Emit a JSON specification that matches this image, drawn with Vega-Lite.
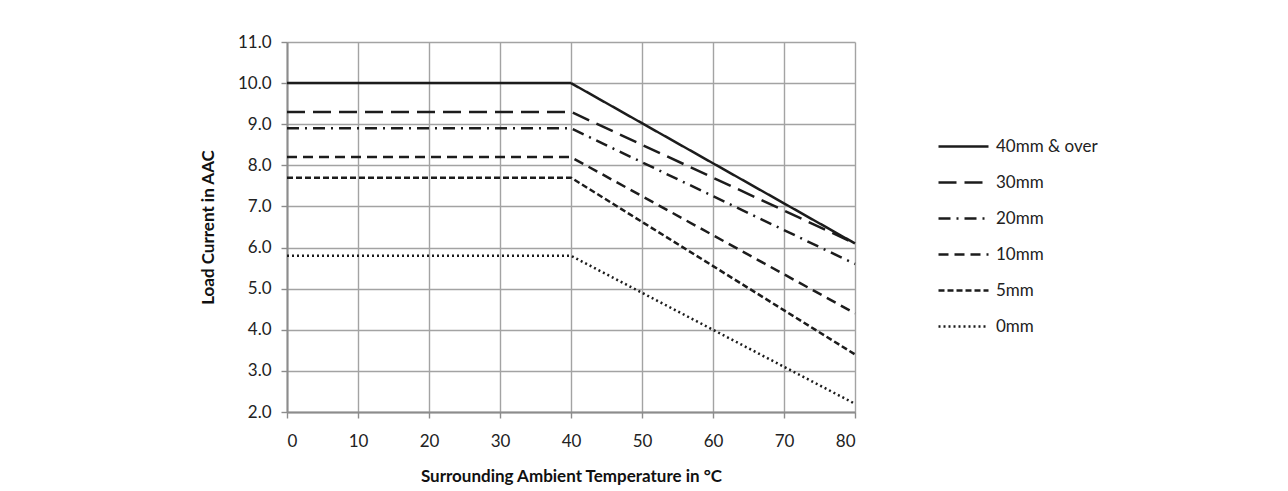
{
  "$schema": "https://vega.github.io/schema/vega-lite/v6.json",
  "autosize": {"type": "none"},
  "width": 568,
  "height": 370,
  "padding": {"left": 287, "top": 42, "right": 433, "bottom": 79},
  "background": "white",
  "config": {
    "font": "Lato",
    "view": {"stroke": null},
    "axis": {
      "gridColor": "#a3a3a3",
      "gridWidth": 1.4,
      "domainColor": "#8c8c8c",
      "domainWidth": 2,
      "tickColor": "#8c8c8c",
      "tickWidth": 1.4,
      "tickSize": 6,
      "labelFont": "Lato",
      "labelFontSize": 17,
      "labelColor": "#222",
      "titleFont": "Lato",
      "titleFontSize": 17,
      "titleFontWeight": "bold",
      "titleColor": "#111"
    }
  },
  "data": {
    "values": [
      {"series": "40mm & over", "temp": 0, "amps": 10.0},
      {"series": "40mm & over", "temp": 40, "amps": 10.0},
      {"series": "40mm & over", "temp": 80, "amps": 6.1},
      {"series": "30mm", "temp": 0, "amps": 9.3},
      {"series": "30mm", "temp": 40, "amps": 9.3},
      {"series": "30mm", "temp": 80, "amps": 6.1},
      {"series": "20mm", "temp": 0, "amps": 8.9},
      {"series": "20mm", "temp": 40, "amps": 8.9},
      {"series": "20mm", "temp": 80, "amps": 5.6},
      {"series": "10mm", "temp": 0, "amps": 8.2},
      {"series": "10mm", "temp": 40, "amps": 8.2},
      {"series": "10mm", "temp": 80, "amps": 4.4},
      {"series": "5mm", "temp": 0, "amps": 7.7},
      {"series": "5mm", "temp": 40, "amps": 7.7},
      {"series": "5mm", "temp": 80, "amps": 3.4},
      {"series": "0mm", "temp": 0, "amps": 5.8},
      {"series": "0mm", "temp": 40, "amps": 5.8},
      {"series": "0mm", "temp": 80, "amps": 2.2}
    ]
  },
  "mark": {"type": "line", "color": "#1c1c1c", "strokeWidth": 2.5},
  "encoding": {
    "x": {
      "field": "temp",
      "type": "quantitative",
      "scale": {"domain": [0, 80], "nice": false},
      "axis": {
        "values": [0, 10, 20, 30, 40, 50, 60, 70, 80],
        "labelPadding": 15,
        "title": "Surrounding Ambient Temperature in °C",
        "titlePadding": 19
      }
    },
    "y": {
      "field": "amps",
      "type": "quantitative",
      "scale": {"domain": [2, 11], "nice": false, "zero": false},
      "axis": {
        "values": [2, 3, 4, 5, 6, 7, 8, 9, 10, 11],
        "format": ".1f",
        "labelPadding": 10,
        "title": "Load Current in AAC",
        "titlePadding": 20
      }
    },
    "strokeDash": {
      "field": "series",
      "type": "nominal",
      "scale": {
        "domain": ["40mm & over", "30mm", "20mm", "10mm", "5mm", "0mm"],
        "range": [[1, 0], [18, 8], [12, 6, 2, 6], [10, 6], [6, 3], [2, 3]]
      },
      "legend": {
        "title": null,
        "orient": "none",
        "legendX": 650,
        "legendY": 78,
        "symbolType": "stroke",
        "symbolSize": 2500,
        "symbolStrokeWidth": 2.5,
        "symbolStrokeColor": "#1c1c1c",
        "labelFont": "Lato",
        "labelFontSize": 17,
        "labelColor": "#222",
        "rowPadding": 1,
        "labelOffset": 6
      }
    }
  }
}
